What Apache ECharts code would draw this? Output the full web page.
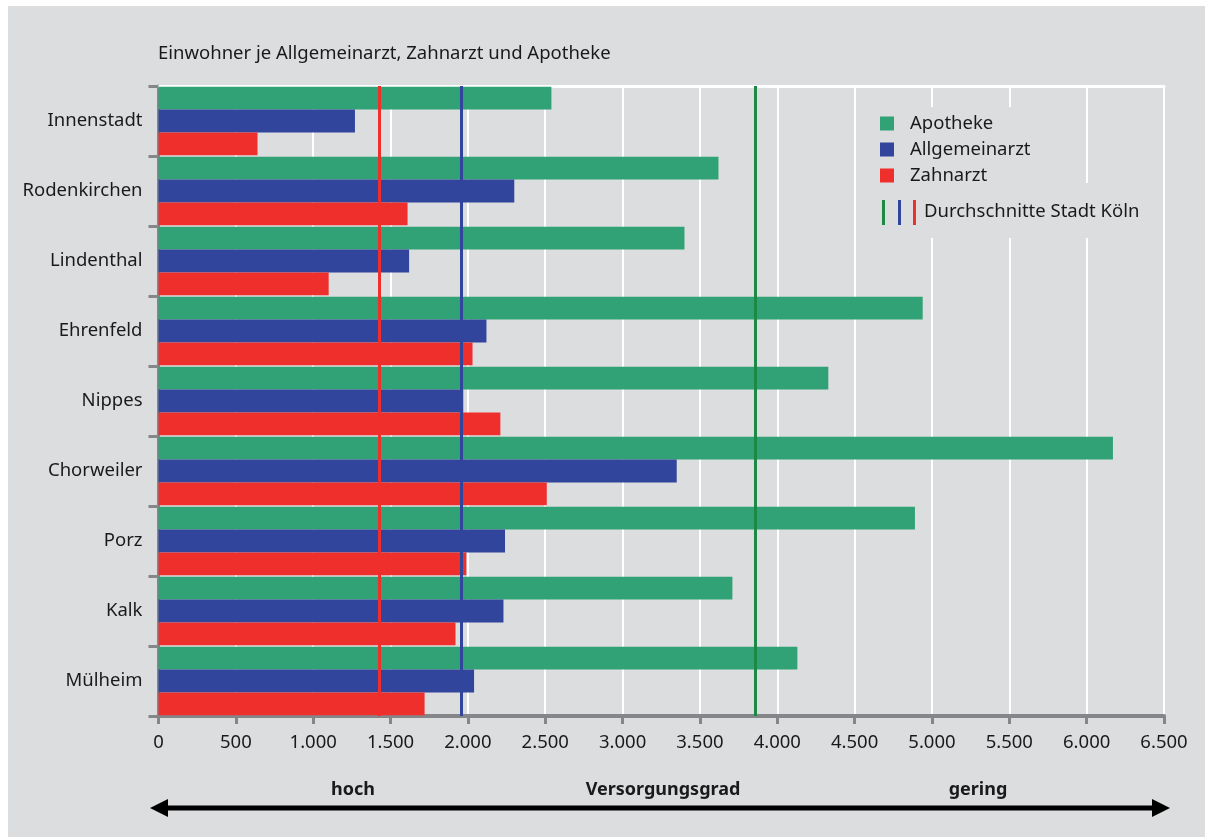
<!DOCTYPE html>
<html>
<head>
<meta charset="utf-8">
<title>Einwohner je Allgemeinarzt, Zahnarzt und Apotheke</title>
<script src="https://cdn.jsdelivr.net/npm/echarts@6/dist/echarts.min.js"></script>
<style>
    body { margin: 0; background: #fff; }
    #chart {
        position: absolute;
        left: 8px;
        top: 6px;
        width: 1197px;
        height: 831px;
        background: #dcdddf;
    }
</style>
</head>
<body>
<div id="chart"></div>
<script>
// Stadtbezirke Köln
var bezirke = ["Innenstadt", "Rodenkirchen", "Lindenthal", "Ehrenfeld", "Nippes",
    "Chorweiler", "Porz", "Kalk", "Mülheim"];
// Einwohner je Einrichtung
var apotheke = [2540, 3620, 3400, 4940, 4330, 6170, 4890, 3710, 4130];
var allgemeinarzt = [1270, 2300, 1620, 2120, 1970, 3350, 2240, 2230, 2040];
var zahnarzt = [640, 1610, 1100, 2030, 2210, 2510, 1990, 1920, 1720];
// Durchschnitte Stadt Köln
var avgApotheke = 3860;
var avgAllgemeinarzt = 1960;
var avgZahnarzt = 1430;
var xMax = 6500;
var xStep = 500;

var font = "Noto Sans";
var green = "#31a276", blue = "#32459c", red = "#ee2f2b", avgGreen = "#1c8a45";
var axisGray = "#85868a";
var bgGray = "#dcdddf";
var textColor = "#1a1a1a";

var mychart = echarts.init(document.getElementById("chart"));

function avgLine(value, color) {
    return {
        silent: true,
        symbol: "none",
        label: { show: false },
        lineStyle: { color: color, width: 3, type: "solid" },
        data: [{ xAxis: value }],
    };
}

var option = {
    animation: false,
    textStyle: { fontFamily: font },
    title: {
        text: "Einwohner je Allgemeinarzt, Zahnarzt und Apotheke",
        left: 145,
        top: 33,
        textStyle: { fontSize: 18.5, fontWeight: "normal", color: textColor, fontFamily: font },
    },
    legend: {
        orient: "vertical",
        left: 867,
        top: 103,
        itemWidth: 14,
        itemHeight: 14,
        itemGap: 7,
        icon: "rect",
        textStyle: { fontSize: 18.5, color: textColor, padding: [0, 0, 0, 11] },
        data: ["Apotheke", "Allgemeinarzt", "Zahnarzt"],
    },
    grid: {
        left: 150.5,
        right: 41,
        top: 80,
        bottom: 121,
    },
    xAxis: [
        {
            type: "value",
            min: 0,
            max: xMax,
            interval: xStep,
            axisLine: { show: true, lineStyle: { color: axisGray, width: 4 } },
            axisTick: { show: true, length: 8, lineStyle: { color: axisGray, width: 3 } },
            splitLine: { show: true, lineStyle: { color: "#ffffff", width: 2 } },
            axisLabel: {
                margin: 17,
                fontSize: 18.5,
                color: textColor,
                formatter: function (v) {
                    return v >= 1000 ? Math.floor(v / 1000) + "." + String(v % 1000).padStart(3, "0") : String(v);
                },
            },
        },
        {
            // weiße Linie oben
            type: "value",
            position: "top",
            min: 0,
            max: xMax,
            axisLine: { show: true, lineStyle: { color: "#ffffff", width: 3 } },
            axisTick: { show: false },
            axisLabel: { show: false },
            splitLine: { show: false },
        },
    ],
    yAxis: {
        type: "category",
        inverse: true,
        data: bezirke,
        axisLine: { show: true, lineStyle: { color: axisGray, width: 3 } },
        axisTick: { show: true, length: 10, lineStyle: { color: axisGray, width: 3 } },
        axisLabel: { margin: 16, fontSize: 18.5, color: textColor },
    },
    series: [
        {
            name: "Apotheke",
            type: "bar",
            barGap: "0%",
            barCategoryGap: "2%",
            itemStyle: { color: green },
            data: apotheke,
            markLine: avgLine(avgApotheke, avgGreen),
            z: 2,
        },
        {
            name: "Allgemeinarzt",
            type: "bar",
            barGap: "0%",
            barCategoryGap: "2%",
            itemStyle: { color: blue },
            data: allgemeinarzt,
            markLine: avgLine(avgAllgemeinarzt, blue),
            z: 2,
        },
        {
            name: "Zahnarzt",
            type: "bar",
            barGap: "0%",
            barCategoryGap: "2%",
            itemStyle: { color: red },
            data: zahnarzt,
            markLine: avgLine(avgZahnarzt, red),
            z: 2,
        },
    ],
    graphic: [
        // Hintergrund hinter der Legende (deckt Gitterlinien ab)
        { type: "rect", x: 858, y: 101, z: 3, shape: { width: 179, height: 80 }, style: { fill: bgGray } },
        { type: "rect", x: 858, y: 177, z: 3, shape: { width: 292, height: 55 }, style: { fill: bgGray } },
        // Legende Durchschnitte
        { type: "rect", x: 874, y: 194, z: 4, shape: { width: 3, height: 25 }, style: { fill: avgGreen } },
        { type: "rect", x: 890, y: 194, z: 4, shape: { width: 3, height: 25 }, style: { fill: blue } },
        { type: "rect", x: 905, y: 194, z: 4, shape: { width: 3, height: 25 }, style: { fill: red } },
        {
            type: "text", x: 916, y: 206, z: 4,
            style: { text: "Durchschnitte Stadt Köln", font: "18.5px " + font, fill: textColor, verticalAlign: "middle" },
        },
        // Versorgungsgrad
        {
            type: "text", x: 345, y: 784,
            style: { text: "hoch", font: "bold 18px " + font, fill: textColor, align: "center", verticalAlign: "middle" },
        },
        {
            type: "text", x: 655, y: 784,
            style: { text: "Versorgungsgrad", font: "bold 18px " + font, fill: textColor, align: "center", verticalAlign: "middle" },
        },
        {
            type: "text", x: 970, y: 784,
            style: { text: "gering", font: "bold 18px " + font, fill: textColor, align: "center", verticalAlign: "middle" },
        },
        {
            type: "line",
            shape: { x1: 156, y1: 802, x2: 1148, y2: 802 },
            style: { stroke: "#000", lineWidth: 5 },
        },
        {
            type: "polygon",
            shape: { points: [[142, 802], [160, 793], [160, 811]] },
            style: { fill: "#000" },
        },
        {
            type: "polygon",
            shape: { points: [[1162, 802], [1144, 793], [1144, 811]] },
            style: { fill: "#000" },
        },
    ],
};

mychart.setOption(option);
</script>
</body>
</html>
